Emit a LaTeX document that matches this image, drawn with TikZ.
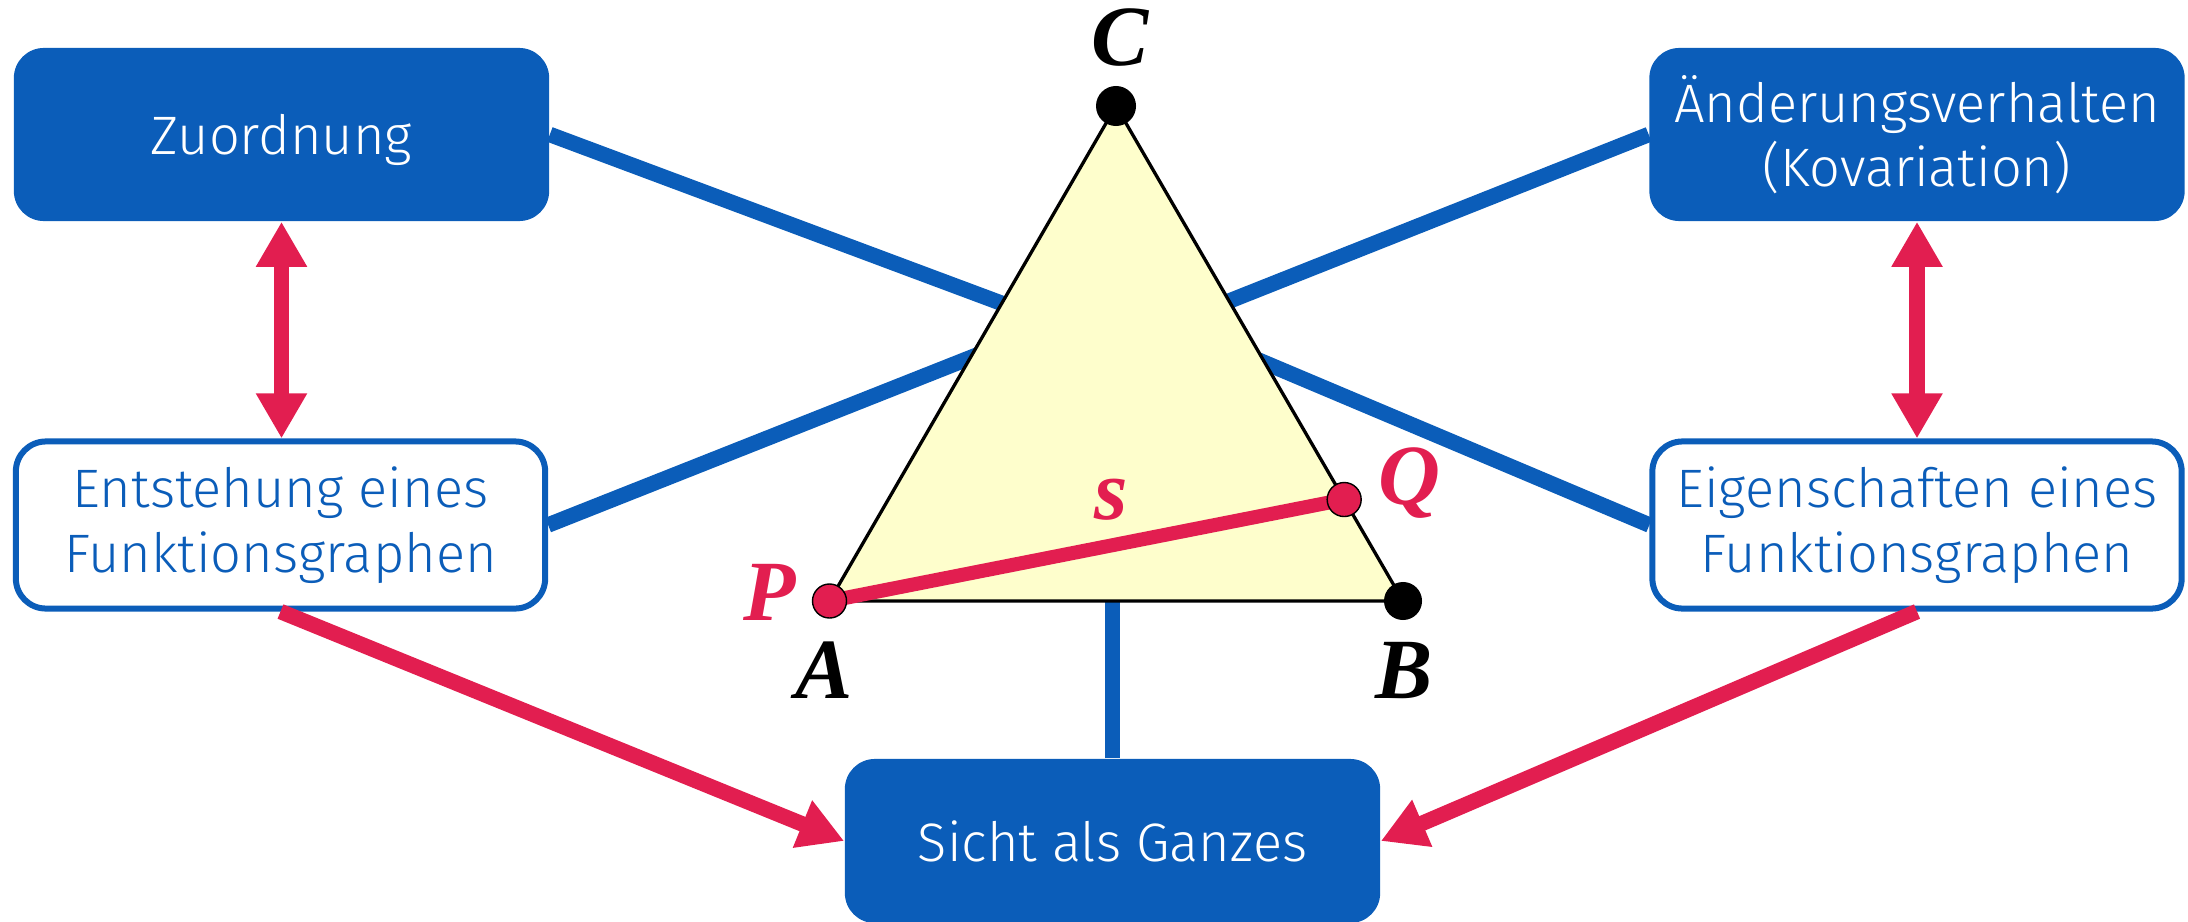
\documentclass[tikz,border=0pt]{standalone}
\usepackage{fontspec}
\usepackage{xcolor}
\usepackage{tikz}
\usetikzlibrary{arrows.meta,positioning,calc}
\newfontfamily\boxfont{Fira Sans Light}
\newfontfamily\ptfont{Liberation Serif}
\definecolor{fblue}{RGB}{11,93,185}
\definecolor{fred}{RGB}{226,30,80}
\definecolor{fyellow}{RGB}{254,254,204}

\begin{document}
\begin{tikzpicture}[
  x=0.01cm, y=-0.01cm,
  fbox/.style={fill=fblue, text=white, rounded corners=0.3cm, align=center, minimum width=5.35cm, minimum height=1.73cm, inner sep=0pt, font=\boxfont\fontsize{15.4}{18.3}\selectfont},
  obox/.style={fbox, fill=white, draw=fblue, line width=0.06cm, text=fblue, minimum width=5.29cm, minimum height=1.67cm},
  link/.style={fblue, line width=0.155cm},
  rarr/.style={fred, line width=0.155cm, -{Triangle[length=0.45cm,width=0.48cm]}},
  dbl/.style={rarr, {Triangle[length=0.45cm,width=0.48cm]}-{Triangle[length=0.45cm,width=0.48cm]}},
  lbl/.style={anchor=base, inner sep=0pt, font=\ptfont\bfseries\itshape\fontsize{24.4}{28}\selectfont},
]
\useasboundingbox (0,0) rectangle (2188,921);

\node[fbox, text depth=0pt] (zuo) at (281.5,134.5) {Zuordnung};
\node[fbox] (aen) at (1917,134.5) {Änderungsverhalten\\(Kovariation)};
\node[obox] (ent) at (280.5,525) {Entstehung eines\\Funktionsgraphen};
\node[obox] (eig) at (1917,525) {Eigenschaften eines\\Funktionsgraphen};
\node[fbox, minimum height=1.64cm] (sicht) at (1112.5,841) {Sicht als Ganzes};

\coordinate (A) at (829.5,601);
\coordinate (B) at (1403,601);
\coordinate (C) at (1116,106);
\coordinate (Q) at ($(B)!0.205!(C)$);
\coordinate (hub1) at (1116,346);
\coordinate (hub2) at (1116,300);

% links into the triangle
\draw[link] (zuo.east) -- (hub1);
\draw[link] (aen.west) -- (hub1);
\draw[link] (ent.east) -- (hub2);
\draw[link] (eig.west) -- (hub2);
\draw[link] (sicht.north) -- (sicht.north |- A);

\draw[fill=fyellow, line width=0.033cm, line join=round] (A) -- (B) -- (C) -- cycle;
\draw[fred, line width=0.14cm] (A) -- (Q);
\fill (C) circle (0.2cm);
\fill (B) circle (0.19cm);
\filldraw[fill=fred, draw=black, line width=0.4pt] (A) circle (0.17cm);
\filldraw[fill=fred, draw=black, line width=0.4pt] (Q) circle (0.17cm);

\node[lbl] (lc) at (1120,65) {C};
\node[lbl] (la) at (824,698) {A};
\node[lbl] (lb) at (1404,698) {B};
\node[lbl, text=fred] (lp) at (770,620) {P};
\node[lbl, text=fred] (lq) at (1409,504) {Q};
\node[lbl, text=fred] (ls) at (1111,519) {s};

% red arrows
\draw[dbl] (zuo.south) -- (zuo.south |- ent.north);
\draw[dbl] (aen.south) -- (aen.south |- eig.north);
\draw[rarr] (ent.south) -- (sicht.west);
\draw[rarr] (eig.south) -- (sicht.east);
\end{tikzpicture}
\end{document}
